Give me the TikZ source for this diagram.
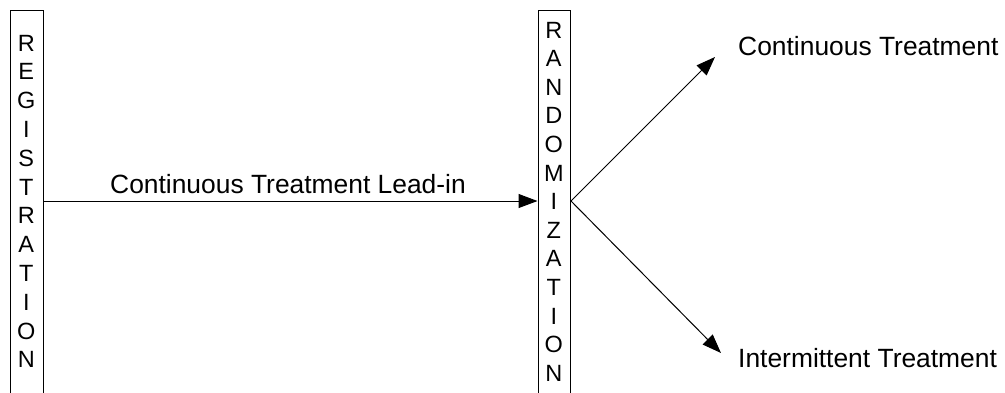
\documentclass[tikz,border=0pt]{standalone}
\usepackage{fontspec}
\setmainfont{Liberation Sans}
\usetikzlibrary{arrows.meta}
\tikzset{
  vbox/.style={draw, line width=1pt, minimum width=32.5pt, minimum height=395pt, anchor=north west, inner sep=0pt},
  letter/.style={inner sep=0pt, font=\fontsize{23.5}{28}\selectfont},
  lbl/.style={inner sep=0pt, anchor=base west, font=\fontsize{26.4}{30}\selectfont},
  conn/.style={line width=1pt, -{Triangle[length=19pt,width=14pt]}},
  branch/.style={line width=1pt}
}
\begin{document}
\begin{tikzpicture}[x=1pt,y=-1pt]
\useasboundingbox (0,0) rectangle (1005,392);
\clip (0,0) rectangle (1005,392);
\node[vbox] (reg) at (10,10) {};
\node[vbox] (rand) at (537.5,10) {};
\foreach \l [count=\i] in {R,E,G,I,S,T,R,A,T,I,O,N}
  \node[letter] (reg-\i) at (26.3,{43+28.8*(\i-1)}) {\l};
\foreach \l [count=\i] in {R,A,N,D,O,M,I,Z,A,T,I,O,N}
  \node[letter] (rand-\i) at (553.8,{30+28.6*(\i-1)}) {\l};
\coordinate (mid) at (0,201);
\coordinate (tipA) at (715,57);
\coordinate (tipB) at (721,353);
\draw[conn] (reg.east |- mid) -- (rand.west |- mid);
\draw[conn] (rand.east |- mid) -- (tipA);
\draw[conn] (rand.east |- mid) -- (tipB);
\node[lbl] (lead) at (110,193) {Continuous Treatment Lead-in};
\node[lbl] (cont) at (738,55) {Continuous Treatment};
\node[lbl] (inter) at (738,367) {Intermittent Treatment};
\end{tikzpicture}
\end{document}
